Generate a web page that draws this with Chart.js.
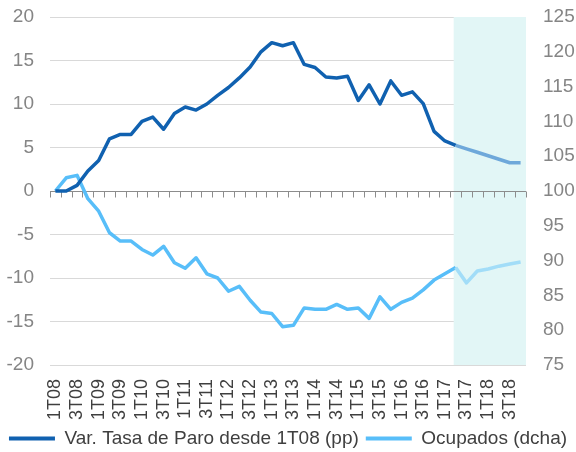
<!DOCTYPE html>
<html>
<head>
<meta charset="utf-8">
<script src="https://cdn.jsdelivr.net/npm/chart.js@4/dist/chart.umd.min.js"></script>
<style>
  body { margin: 0; background: #fff; }
  #wrap { width: 576px; height: 452px; }
</style>
</head>
<body>
<div id="wrap"><canvas id="paro"></canvas></div>
<script>
// trimestres 1T08 - 4T18
const quarters = [
    '1T08', '2T08', '3T08', '4T08', '1T09', '2T09', '3T09', '4T09',
    '1T10', '2T10', '3T10', '4T10', '1T11', '2T11', '3T11', '4T11',
    '1T12', '2T12', '3T12', '4T12', '1T13', '2T13', '3T13', '4T13',
    '1T14', '2T14', '3T14', '4T14', '1T15', '2T15', '3T15', '4T15',
    '1T16', '2T16', '3T16', '4T16', '1T17', '2T17', '3T17', '4T17',
    '1T18', '2T18', '3T18', '4T18'
]

// variacion tasa de paro desde 1T08 (pp), eje izq.
const varParo = [
    0, 0, 0.65, 2.3, 3.5, 6.0, 6.5, 6.5, 8.0, 8.5,
    7.1, 8.9, 9.65, 9.3, 10.0, 11.0, 11.9, 13.0, 14.25, 16.0,
    17.05, 16.7, 17.05, 14.55, 14.2, 13.1, 13.0, 13.2, 10.4, 12.2,
    10.0, 12.65, 11.0, 11.4, 10.05, 6.85, 5.75, 5.25, 4.85, 4.45,
    4.05, 3.65, 3.25, 3.25
]

// ocupados (1T08 = 100), eje dcha.
const ocupados = [
    100, 101.9, 102.25, 98.9, 97.1, 94.0, 92.8, 92.8, 91.6, 90.8,
    92.05, 89.7, 88.9, 90.4, 88.1, 87.5, 85.6, 86.3, 84.3, 82.6,
    82.4, 80.5, 80.7, 83.2, 83.0, 83.0, 83.7, 83.0, 83.2, 81.7,
    84.8, 83.0, 84.0, 84.6, 85.8, 87.2, 88.1, 89.0, 86.8, 88.5,
    88.8, 89.2, 89.5, 89.8
]

// desde aqui son previsiones (zona sombreada)
const forecastFrom = 37

const darkBlue = '#1061B0'
const darkBlueFc = '#6EA8DA'
const lightBlue = '#58BEF9'
const lightBlueFc = '#A2DDF8'

Chart.defaults.font.family = '"Liberation Sans", Arial, sans-serif'
Chart.defaults.font.size = 19

// fondo de la prevision + eje en 0 con marcas
const forecastPlugin = {
    id: 'forecast',
    afterLayout(chart) {
        // bajar un poco la leyenda
        chart.legend.top += 1
        chart.legend.bottom += 1
    },
    beforeDatasetsDraw(chart) {
        let ctx = chart.ctx
        let area = chart.chartArea
        let x = chart.scales.x
        let y = chart.scales.y
        let x0 = x.getPixelForValue(forecastFrom) - 2
        ctx.save()
        ctx.fillStyle = '#E2F6F6'
        ctx.fillRect(x0, area.top, area.right - x0, area.bottom - area.top)

        // linea del cero
        let y0 = Math.round(y.getPixelForValue(0)) + 0.5
        ctx.strokeStyle = '#8C8C8C'
        ctx.lineWidth = 1
        ctx.beginPath()
        ctx.moveTo(area.left, y0)
        ctx.lineTo(area.right, y0)
        let step = (area.right - area.left) / quarters.length
        for (let i = 0; i <= quarters.length; i++) {
            let tx = Math.round(area.left + i * step) + 0.5
            ctx.moveTo(tx, y0)
            ctx.lineTo(tx, y0 + 6)
        }
        ctx.stroke()
        ctx.restore()
    }
}

function fcColor(normal, fc) {
    return ctx => ctx.p0DataIndex >= forecastFrom ? fc : normal
}

// ancho fijo de los ejes verticales, sin relleno extra arriba/abajo
function fixAxis(scale) {
    scale.width = 50
    scale.paddingTop = 0
    scale.paddingBottom = 0
}

new Chart('paro', {
    type: 'line',
    data: {
        labels: quarters,
        datasets: [
            {
                label: 'Var. Tasa de Paro desde 1T08 (pp)',
                data: varParo,
                yAxisID: 'y',
                borderColor: darkBlue,
                backgroundColor: darkBlue,
                borderWidth: 3.5,
                pointRadius: 0,
                borderJoinStyle: 'round',
                segment: { borderColor: fcColor(darkBlue, darkBlueFc) }
            },
            {
                label: 'Ocupados (dcha)',
                data: ocupados,
                yAxisID: 'y2',
                borderColor: lightBlue,
                backgroundColor: lightBlue,
                borderWidth: 3.5,
                pointRadius: 0,
                borderJoinStyle: 'round',
                segment: { borderColor: fcColor(lightBlue, lightBlueFc) }
            }
        ]
    },
    options: {
        responsive: true,
        maintainAspectRatio: false,
        animation: false,
        layout: { padding: { top: 17, bottom: -5 } },
        plugins: {
            tooltip: { enabled: false },
            legend: {
                position: 'bottom',
                labels: {
                    color: '#3F3F3F',
                    boxWidth: 46,
                    boxHeight: 4,
                    padding: 7,
                    generateLabels(chart) {
                        let items = Chart.defaults.plugins.legend.labels.generateLabels(chart)
                        items.forEach(it => { it.lineWidth = 0 })
                        return items
                    }
                }
            }
        },
        scales: {
            x: {
                offset: true,
                grid: { display: false, drawTicks: false },
                border: { display: false },
                ticks: {
                    color: '#3F3F3F',
                    font: { size: 18 },
                    autoSkip: false,
                    minRotation: 90,
                    maxRotation: 90,
                    padding: 14,
                    callback: (v, i) => i % 2 == 0 ? quarters[i] : ''
                },
                afterFit(scale) { scale.height = 56 }
            },
            y: {
                position: 'left',
                min: -20,
                max: 20,
                border: { display: false },
                grid: {
                    drawTicks: false,
                    color: c => c.tick.value == 0 ? 'rgba(0,0,0,0)' : '#D9D9D9'
                },
                ticks: { stepSize: 5, color: '#858585', padding: 16 },
                afterFit: fixAxis
            },
            y2: {
                position: 'right',
                min: 75,
                max: 125,
                border: { display: false },
                grid: { display: false, drawTicks: false },
                ticks: { stepSize: 5, color: '#858585', padding: 17 },
                afterFit: fixAxis
            }
        }
    },
    plugins: [forecastPlugin]
})
</script>
</body>
</html>
